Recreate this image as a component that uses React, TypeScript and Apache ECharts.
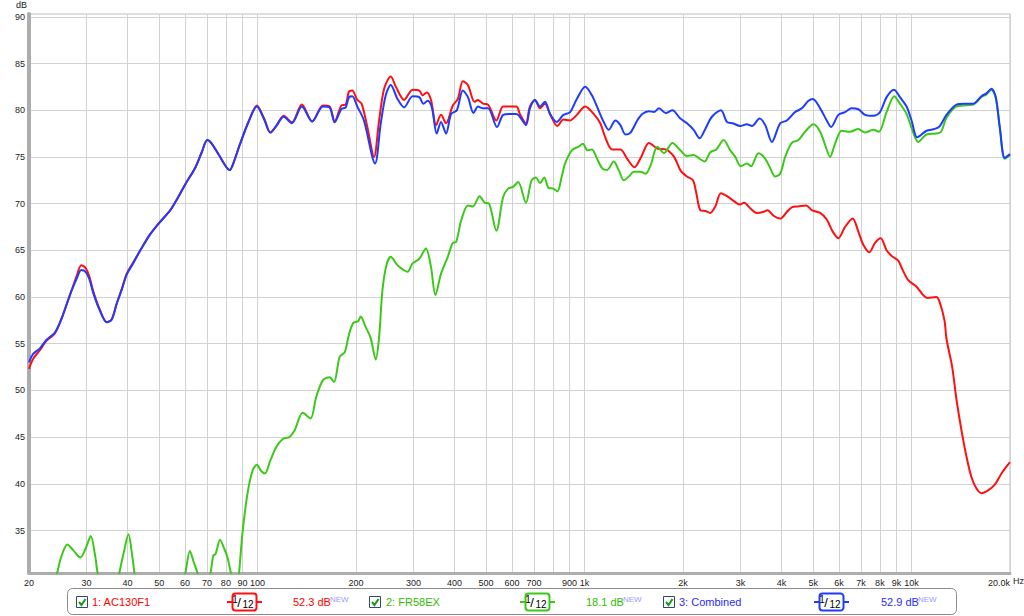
import React, { useEffect, useRef } from 'react';
import * as echarts from 'echarts';

// ---- data (frequency in Hz, level in dB) ----
const acFreq = [20, 20.6, 21.6, 22.6, 24, 25.1, 26.3, 27, 28, 28.9, 29.8, 30.6, 31.4, 32.8, 34.6, 35.8, 37.1, 38.5, 39.8, 41.8, 43.8, 46.7, 49.8, 54.1, 57, 60.2, 64.6, 67.5, 70.2, 72.5, 76.2, 82.2, 84.7, 87.8, 94.2, 99.5, 104.8, 109.4, 114, 120.2, 127.2, 136.6, 146.9, 158.5, 166.1, 172.1, 180.4, 186, 190.3, 194.8, 201.8, 208, 216.6, 227.1, 235.3, 243.8, 255.5, 264.8, 280.7, 297.9, 312.3, 319.8, 328.9, 339.2, 351.4, 364, 377.1, 395.4, 409.7, 424.5, 439.8, 461, 472, 489.1, 506.8, 537.5, 563.5, 590.6, 619.1, 634, 661.6, 680.6, 705.1, 730.5, 756.8, 784, 825.8, 861.7, 903.3, 947, 1004.7, 1066, 1117, 1157, 1213, 1287, 1350, 1421, 1490, 1573, 1669, 1771, 1878, 1969, 2057, 2146, 2197, 2259, 2340, 2424, 2511, 2612, 2725, 2856, 2979, 3079, 3211, 3364, 3510, 3627, 3783, 3965, 4154, 4302, 4508, 4759, 4953, 5253, 5503, 5740, 5974, 6260, 6605, 6875, 7120, 7429, 7731, 8045, 8387, 8690, 9106, 9389, 9770, 10359, 10856, 11163, 11895, 12174, 12609, 12789, 13313, 13723, 14216, 14724, 15250, 15795, 16357, 17144, 17968, 18832, 19872, 20000];
const acDb = [52.3, 53.4, 54.3, 55.3, 56.1, 57.6, 59.6, 60.7, 62.3, 63.4, 63.1, 62.2, 60.7, 58.8, 57.3, 57.6, 59.3, 60.9, 62.5, 63.8, 65.0, 66.6, 67.85, 69.3, 70.6, 72.1, 73.9, 75.5, 76.8, 76.4, 75.2, 73.6, 74.5, 76.1, 78.9, 80.5, 79.1, 77.6, 78.3, 79.4, 78.7, 80.6, 78.8, 80.5, 80.4, 78.8, 80.5, 80.6, 82.0, 82.1, 81.1, 80.7, 78.2, 75.0, 78.9, 82.3, 83.6, 82.5, 81.1, 82.2, 82.1, 81.6, 81.9, 81.1, 78.4, 79.5, 78.6, 80.5, 81.2, 83.1, 82.7, 80.9, 81.1, 80.7, 80.6, 78.9, 80.4, 80.4, 80.4, 79.6, 78.6, 80.4, 81.1, 80.2, 80.7, 79.6, 78.3, 79.0, 78.9, 79.5, 80.4, 79.6, 78.6, 77.1, 75.8, 75.8, 74.8, 73.9, 75.0, 76.5, 75.9, 75.8, 75.0, 73.5, 72.9, 72.5, 71.1, 69.3, 69.2, 69.0, 69.7, 71.1, 70.8, 70.3, 69.9, 70.1, 69.5, 69.0, 69.1, 69.3, 68.7, 68.4, 69.1, 69.6, 69.7, 69.8, 69.3, 69.0, 68.3, 67.0, 66.3, 67.5, 68.4, 67.0, 65.6, 64.8, 65.8, 66.3, 65.0, 64.4, 63.9, 62.9, 61.8, 61.1, 60.2, 59.9, 60.0, 59.5, 57.5, 55.5, 52.5, 49.0, 45.7, 42.9, 40.7, 39.5, 39.0, 39.3, 39.9, 41.1, 42.2, 42.3];

const frFreq = [20, 23.5, 24.3, 25, 26.2, 27.3, 28.7, 29.9, 30.9, 31.8, 32.4, 33.5, 36.5, 37.8, 38.9, 40.3, 41.3, 42, 43, 50, 58, 60.2, 62.1, 63.8, 65.4, 67, 70, 71.9, 73.2, 74.4, 76.8, 79, 80.8, 82.8, 84.5, 86.5, 87.8, 89.9, 93.1, 96.5, 99.5, 102.4, 105.3, 109.4, 113.9, 119.4, 125.1, 129.7, 137.5, 145.2, 151.1, 158.5, 166.1, 171.3, 178.3, 184.8, 190.1, 196, 203, 206.6, 214, 221.8, 229.8, 235.3, 240.9, 247.8, 255.5, 267.9, 287.5, 297.9, 312.3, 327.3, 339.2, 349.7, 364, 381.7, 395.4, 404.9, 419.5, 439.8, 455.6, 477.5, 494.9, 510.4, 537.5, 563.5, 583.7, 604.7, 626.6, 661.6, 688.6, 710.1, 730.5, 752.9, 774.7, 802.6, 825.8, 851.5, 872, 914.1, 958.3, 988.1, 1021, 1053, 1086, 1131, 1172, 1228, 1272, 1318, 1366, 1415, 1483, 1537, 1592, 1669, 1750, 1856, 1963, 2057, 2156, 2249, 2328, 2424, 2529, 2662, 2789, 2889, 3007, 3136, 3226, 3404, 3569, 3695, 3828, 3965, 4106, 4302, 4508, 4725, 5012, 5253, 5476, 5634, 5834, 6114, 6484, 6875, 7203, 7638, 7944, 8387, 8854, 9214, 9655, 10048, 10481, 11110, 11895, 12314, 12789, 13723, 14380, 15430, 16357, 16943, 17550, 18094, 18611, 19275, 20000];
const frDb = [28, 29.5, 30.3, 32.0, 33.5, 32.9, 32.1, 33.2, 34.4, 32.5, 30.5, 28, 28, 30.5, 32.5, 34.6, 32.5, 30.5, 28, 27, 28, 30.5, 32.8, 31.6, 30.5, 28.5, 28.5, 30.5, 32.3, 32.5, 34.0, 33.1, 32.2, 30.5, 28.8, 28.8, 30.5, 34.7, 38.9, 41.4, 42.05, 41.4, 41.1, 42.5, 43.9, 44.8, 45.0, 45.7, 47.6, 47.0, 49.3, 51.1, 51.4, 50.9, 53.6, 54.1, 55.9, 57.2, 57.4, 57.9, 56.8, 55.6, 53.3, 55.7, 60.7, 63.4, 64.3, 63.4, 62.7, 63.6, 64.1, 65.2, 63.2, 60.2, 62.5, 64.3, 65.8, 65.9, 68.2, 69.8, 69.7, 70.8, 70.1, 70.0, 67.1, 70.7, 71.6, 71.8, 72.3, 70.1, 72.5, 72.8, 72.2, 72.8, 71.7, 71.6, 71.3, 72.9, 74.3, 75.7, 76.1, 76.4, 75.7, 75.8, 75.0, 73.8, 73.6, 74.5, 73.6, 72.5, 72.9, 73.4, 73.4, 73.2, 74.1, 76.1, 75.4, 76.5, 75.7, 75.1, 75.2, 74.8, 74.5, 75.5, 75.8, 76.8, 75.7, 75.0, 74.0, 74.3, 74.0, 75.4, 74.8, 73.8, 72.9, 73.2, 75.0, 76.5, 76.8, 77.7, 78.5, 77.7, 76.0, 75.0, 76.4, 77.8, 77.7, 78.0, 77.6, 77.9, 77.7, 79.8, 81.5, 80.7, 79.6, 77.9, 76.6, 77.4, 77.5, 77.7, 79.2, 80.4, 80.5, 80.6, 81.4, 81.7, 82.2, 81.3, 78.1, 74.8, 75.2];

const coFreq = [20, 20.6, 21.6, 22.6, 24, 25.1, 26.3, 27, 28, 28.9, 29.8, 30.6, 31.4, 32.8, 34.6, 35.8, 37.1, 38.5, 39.8, 41.8, 43.8, 46.7, 49.8, 54.1, 57, 60.2, 64.6, 67.5, 70.2, 72.5, 76.2, 82.2, 84.7, 87.8, 94.2, 99.5, 104.8, 109.4, 114, 120.2, 127.2, 136.6, 146.9, 158.5, 166.1, 172.1, 180.4, 186, 190.3, 194.8, 201.8, 211.5, 228.7, 238.1, 246.6, 255.5, 267.9, 280.7, 297.9, 312.3, 321.3, 331.4, 341.6, 353, 364, 377.1, 390.8, 406.8, 424.5, 439.8, 457.7, 472, 489.1, 506.8, 540, 563.5, 590.6, 619.1, 634, 661.6, 680.6, 705.1, 730.5, 756.8, 784, 821.8, 861.7, 903.3, 947, 1004.7, 1053, 1091, 1144, 1185, 1243, 1287, 1334, 1382, 1449, 1501, 1573, 1630, 1689, 1771, 1856, 1963, 2057, 2156, 2249, 2340, 2452, 2612, 2725, 2842, 2993, 3136, 3249, 3429, 3569, 3739, 3965, 4154, 4404, 4616, 4838, 4988, 5253, 5503, 5673, 5974, 6260, 6560, 6875, 7203, 7638, 8006, 8387, 8834, 9214, 9655, 10000, 10406, 11110, 11782, 12203, 12789, 13723, 14549, 15430, 16357, 16943, 17550, 18094, 18611, 19275, 20000];
const coDb = [53.0, 53.9, 54.5, 55.4, 56.2, 57.6, 59.6, 60.7, 62.0, 62.9, 62.7, 61.9, 60.5, 58.7, 57.3, 57.6, 59.3, 60.9, 62.4, 63.7, 65.0, 66.6, 67.85, 69.3, 70.6, 72.1, 73.9, 75.5, 76.8, 76.4, 75.2, 73.6, 74.5, 76.1, 78.9, 80.4, 79.0, 77.6, 78.3, 79.3, 78.6, 80.4, 78.8, 80.4, 80.3, 78.7, 80.1, 80.3, 81.4, 81.5, 80.4, 78.9, 74.3, 78.6, 81.6, 82.7, 81.2, 80.3, 81.5, 81.4, 80.7, 81.0, 80.2, 77.5, 78.75, 77.5, 79.6, 80.0, 82.1, 81.4, 79.7, 80.4, 80.2, 80.2, 78.2, 79.5, 79.6, 79.6, 79.3, 78.4, 80.2, 81.1, 80.4, 80.9, 79.6, 78.75, 79.5, 79.8, 81.2, 82.5, 81.6, 80.4, 78.75, 77.9, 78.9, 78.4, 77.4, 77.6, 78.9, 79.6, 79.9, 79.8, 80.2, 79.7, 80.0, 79.1, 78.6, 77.9, 77.0, 78.0, 79.3, 80.0, 78.75, 78.6, 78.3, 78.5, 78.3, 79.1, 78.4, 76.6, 78.6, 78.9, 79.8, 80.2, 81.0, 81.2, 80.2, 78.9, 78.2, 79.5, 79.8, 80.2, 80.1, 79.5, 79.4, 79.8, 81.4, 82.2, 81.4, 80.4, 78.9, 77.1, 77.8, 78.0, 78.3, 79.5, 80.6, 80.7, 80.7, 81.5, 81.8, 82.3, 81.4, 78.2, 74.9, 75.3];

const gridFreqs = [20, 30, 40, 50, 60, 70, 80, 90, 100, 200, 300, 400, 500, 600, 700, 800, 900, 1000, 2000, 3000, 4000, 5000, 6000, 7000, 8000, 9000, 10000, 20000];
const labelFreqs = [20, 30, 40, 50, 60, 70, 80, 90, 100, 200, 300, 400, 500, 600, 700, 900, 1000, 2000, 3000, 4000, 5000, 6000, 7000, 8000, 9000, 10000, 20000];
const yTicks = [35, 40, 45, 50, 55, 60, 65, 70, 75, 80, 85, 90];

const seriesNames = ['1: AC130F1', '2: FR58EX', '3: Combined'];
const seriesColors = ['#ff1010', '#3cc81a', '#1e3cff'];
const textColors = ['#ff0000', '#33bb00', '#2a2aff'];
const legendValues = ['52.3 dB', '18.1 dB', '52.9 dB'];
const smoothingText = ['1', '12'];

const FONT = '"Liberation Sans", Arial, sans-serif';

function pairs(f: number[], d: number[]) {
  return f.map((x, i) => [x, d[i]]);
}

function fmtFreq(v: number) {
  const r = Math.round(v);
  if (r === 20000) return '20.0k';
  if (r >= 1000) return r / 1000 + 'k';
  return String(r);
}

function buildLegend() {
  const g: any[] = [];
  const cbX = [76, 369, 663];
  const nameX = [92, 386, 679];
  const filtX = [227, 520, 814];
  const valX = [293, 586, 881];
  const newX = [330, 623, 918];
  const cy = 602;
  g.push({
    type: 'rect', z: 10,
    shape: { x: 67.5, y: 588.5, width: 889, height: 26, r: 5 },
    style: { fill: '#ffffff', stroke: '#8a8a8a', lineWidth: 1 },
  });
  for (let i = 0; i < 3; i++) {
    const c = seriesColors[i];
    g.push({
      type: 'rect', z: 11,
      shape: { x: cbX[i] + 0.5, y: 596.5, width: 11, height: 11 },
      style: { fill: '#ffffff', stroke: '#2e4a66', lineWidth: 1 },
    });
    g.push({
      type: 'polyline', z: 12,
      shape: { points: [[cbX[i] + 3, 602], [cbX[i] + 5.5, 605], [cbX[i] + 9.5, 599]] },
      style: { stroke: '#1a9a1a', lineWidth: 2, fill: null },
    });
    g.push({
      type: 'text', z: 12, x: nameX[i], y: cy,
      style: { text: seriesNames[i], fill: textColors[i], fontSize: 11, fontFamily: FONT, align: 'left', verticalAlign: 'middle' },
    });
    g.push({
      type: 'line', z: 11,
      shape: { x1: filtX[i], y1: cy, x2: filtX[i] + 35, y2: cy },
      style: { stroke: c, lineWidth: 2 },
    });
    g.push({
      type: 'rect', z: 12,
      shape: { x: filtX[i] + 5.5, y: 593.5, width: 24, height: 17, r: 3 },
      style: { fill: '#ffffff', stroke: c, lineWidth: 2 },
    });
    g.push({
      type: 'text', z: 13, x: filtX[i] + 8, y: 599,
      style: { text: smoothingText[0], fill: '#000', fontSize: 10, fontFamily: FONT, align: 'center', verticalAlign: 'middle' },
    });
    g.push({
      type: 'text', z: 13, x: filtX[i] + 12, y: 602.5,
      style: { text: '/', fill: '#000', fontSize: 13, fontFamily: FONT, align: 'center', verticalAlign: 'middle' },
    });
    g.push({
      type: 'text', z: 13, x: filtX[i] + 21, y: 604.5,
      style: { text: smoothingText[1], fill: '#000', fontSize: 10, fontFamily: FONT, align: 'center', verticalAlign: 'middle' },
    });
    g.push({
      type: 'text', z: 12, x: valX[i], y: cy,
      style: { text: legendValues[i], fill: textColors[i], fontSize: 11, fontFamily: FONT, align: 'left', verticalAlign: 'middle' },
    });
    g.push({
      type: 'text', z: 12, x: newX[i], y: 599,
      style: { text: 'NEW', fill: '#9a9aff', fontSize: 8, fontFamily: FONT, align: 'left', verticalAlign: 'middle' },
    });
  }
  g.push({
    type: 'text', x: 16, y: 5,
    style: { text: 'dB', fill: '#222', fontSize: 9, fontFamily: FONT, align: 'left', verticalAlign: 'middle' },
  });
  g.push({
    type: 'text', x: 1013, y: 581,
    style: { text: 'Hz', fill: '#222', fontSize: 9, fontFamily: FONT, align: 'left', verticalAlign: 'middle' },
  });
  return g;
}

export default function App() {
  const ref = useRef<HTMLDivElement>(null);
  useEffect(() => {
    if (!ref.current) return;
    const chart = echarts.init(ref.current, undefined, { renderer: 'svg' });
    const lineSeries = [
      { name: seriesNames[0], data: pairs(acFreq, acDb), color: seriesColors[0], z: 3 },
      { name: seriesNames[1], data: pairs(frFreq, frDb), color: seriesColors[1], z: 4 },
      { name: seriesNames[2], data: pairs(coFreq, coDb), color: seriesColors[2], z: 5 },
    ].map((s) => ({
      type: 'line',
      name: s.name,
      data: s.data,
      showSymbol: false,
      symbol: 'none',
      smooth: 0.3,
      clip: true,
      z: s.z,
      lineStyle: { color: s.color, width: 2 },
      itemStyle: { color: s.color },
    }));
    chart.setOption({
      animation: false,
      backgroundColor: '#ffffff',
      grid: { left: 29, right: 14, top: 14, bottom: 43, show: true, borderColor: '#bdbdbd', borderWidth: 1 },
      xAxis: {
        type: 'log',
        logBase: 10,
        min: 20,
        max: 20000,
        axisLine: { show: true, onZero: false, lineStyle: { color: '#adadad', width: 3 } },
        axisTick: { show: false, customValues: gridFreqs },
        splitLine: { show: true, lineStyle: { color: '#d2d2d2', width: 1 } },
        minorSplitLine: { show: false },
        axisLabel: {
          customValues: labelFreqs,
          formatter: (v: number) => fmtFreq(v),
          color: '#222',
          fontSize: 9,
          fontFamily: FONT,
          margin: 5,
          alignMaxLabel: 'right',
          alignMinLabel: 'center',
        },
      },
      yAxis: {
        type: 'value',
        min: 30.45,
        max: 90.3,
        axisLine: { show: true, onZero: false, lineStyle: { color: '#adadad', width: 4 } },
        axisTick: { show: false, customValues: yTicks },
        splitLine: { show: true, lineStyle: { color: '#d2d2d2', width: 1 } },
        axisLabel: {
          customValues: yTicks,
          color: '#222',
          fontSize: 9,
          fontFamily: FONT,
          margin: 4,
        },
      },
      graphic: buildLegend(),
      series: lineSeries,
    });
    return () => chart.dispose();
  }, []);
  return (
    <div
      ref={ref}
      style={{ position: 'fixed', left: 0, top: 0, width: 1024, height: 616, background: '#fff' }}
    />
  );
}
